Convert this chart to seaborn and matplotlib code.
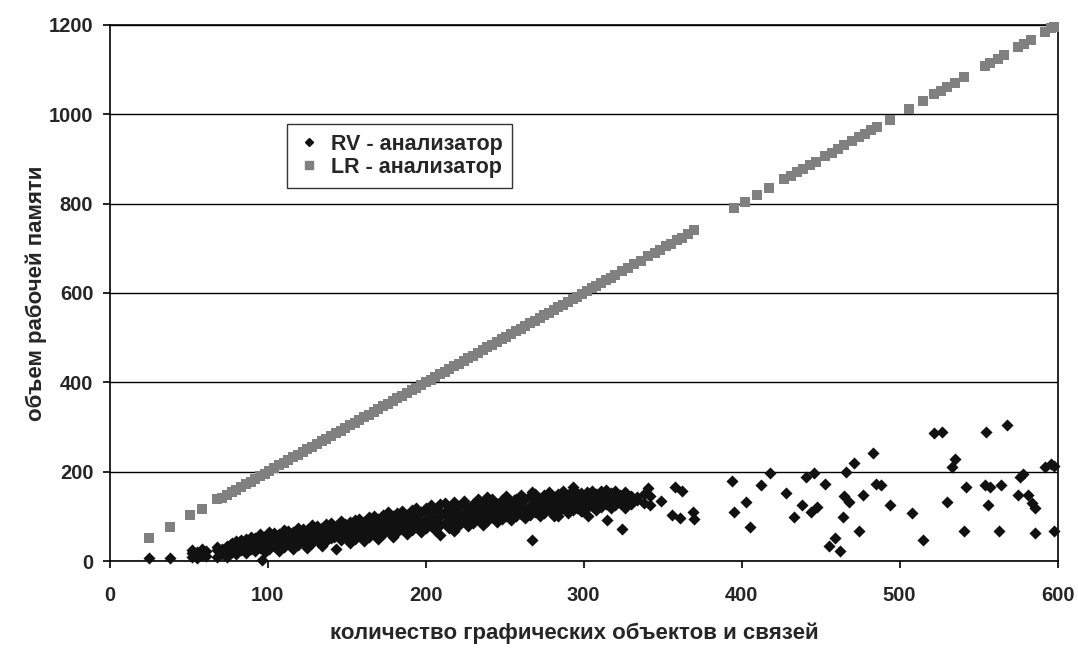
import numpy as np
import pandas as pd
import seaborn as sns
import matplotlib.pyplot as plt
from matplotlib.lines import Line2D

sns.set_style("white")
plt.rcParams['font.family'] = ['Liberation Sans', 'DejaVu Sans']

# RV - analyser: dense band, then a scatter of outliers
rv_x = [
    52, 52, 52, 55, 55, 58, 58, 61, 61, 68, 68, 68, 71, 71,
    74, 74, 74, 77, 77, 77, 80, 80, 80, 83, 83, 83,
    86, 86, 86, 89, 89, 89, 92, 92, 92, 95, 95, 95,
    98, 98, 98, 101, 101, 101, 104, 104, 104, 107, 107, 107,
    110, 110, 110, 113, 113, 113, 116, 116, 116, 119, 119, 119,
    122, 122, 122, 125, 125, 125, 128, 128, 128, 131, 131, 131,
    134, 134, 134, 137, 137, 137, 140, 140, 140, 143, 143, 143,
    146, 146, 146, 149, 149, 149, 152, 152, 152, 155, 155, 155,
    158, 158, 158, 161, 161, 161, 164, 164, 164, 167, 167, 167,
    170, 170, 170, 173, 173, 173, 176, 176, 176, 179, 179, 179,
    182, 182, 182, 185, 185, 185, 188, 188, 188, 191, 191, 191,
    194, 194, 194, 197, 197, 197, 200, 200, 200, 203, 203, 203,
    206, 206, 206, 209, 209, 209, 209, 212, 212, 212, 215, 215, 215,
    218, 218, 218, 218, 221, 221, 221, 224, 224, 224, 227, 227, 227,
    230, 230, 230, 233, 233, 233, 236, 236, 236, 239, 239, 239,
    242, 242, 242, 245, 245, 245, 248, 248, 248, 251, 251, 251,
    254, 254, 254, 257, 257, 257, 260, 260, 260, 263, 263, 263,
    266, 266, 266, 269, 269, 269, 272, 272, 272, 275, 275, 275,
    278, 278, 278, 281, 281, 281, 284, 284, 284, 287, 287, 287,
    290, 290, 290, 293, 293, 293, 296, 296, 296, 299, 299, 299,
    302, 302, 302, 305, 305, 305, 308, 308, 308, 311, 311, 311,
    314, 314, 314, 317, 317, 317, 320, 320, 320, 323, 323, 326, 326, 326,
    330, 330, 334, 338, 338, 342, 342,
    76, 76, 82, 82, 88, 88, 94, 94, 100, 100, 106, 106, 112, 112,
    118, 118, 124, 124, 130, 130, 136, 136, 142, 142, 148, 148,
    154, 154, 160, 160, 166, 166, 172, 172, 178, 178, 184, 184,
    190, 190, 196, 196, 202, 202, 208, 208, 214, 214, 220, 220,
    226, 226, 232, 232, 238, 238, 244, 244, 250, 250, 256, 256,
    262, 262, 268, 268, 274, 274, 280, 280, 286, 286, 292, 292,
    298, 298, 304, 304, 310, 310, 316, 316, 322, 322,
    25, 38, 96, 239, 267, 267, 284, 293, 298, 303, 315, 324, 334, 341,
    349, 358, 362, 356, 361, 369, 370,
    394, 395, 403, 405, 412, 418, 428, 433, 438, 441,
    444, 446, 448, 453, 455, 459, 462, 464, 466, 465,
    468, 471, 474, 477, 483, 485, 488, 494, 508, 515,
    522, 527, 530, 533, 535, 542, 541, 554, 555, 556,
    557, 563, 564, 568, 575, 576, 578, 581, 584, 586,
    586, 592, 596, 598, 598,
]
rv_y = [
    10, 18, 26, 8, 20, 14, 27, 12, 22, 10, 24, 31, 16, 28,
    9, 22, 35, 20, 33, 40, 15, 28, 45, 25, 38, 48,
    18, 33, 50, 28, 42, 55, 22, 36, 52, 30, 45, 60,
    20, 40, 55, 28, 48, 66, 35, 52, 62, 22, 44, 60,
    32, 50, 70, 40, 56, 68, 28, 47, 65, 36, 58, 75,
    44, 62, 72, 30, 52, 70, 40, 60, 80, 48, 66, 78,
    35, 55, 74, 45, 62, 84, 52, 70, 86, 28, 58, 78,
    48, 66, 90, 55, 72, 84, 40, 62, 88, 50, 70, 92,
    58, 78, 95, 45, 66, 88, 55, 75, 98, 62, 82, 100,
    50, 72, 94, 60, 80, 104, 68, 88, 110, 55, 76, 100,
    65, 86, 108, 72, 92, 112, 60, 82, 104, 70, 90, 115,
    78, 98, 118, 65, 88, 110, 74, 95, 120, 82, 102, 125,
    70, 92, 116, 58, 80, 100, 128, 85, 105, 130, 75, 96, 120,
    68, 88, 110, 132, 80, 100, 124, 90, 108, 135, 78, 98, 120,
    86, 105, 128, 94, 114, 138, 82, 102, 125, 90, 110, 132,
    98, 118, 140, 88, 106, 128, 95, 115, 136, 102, 122, 145,
    92, 110, 132, 100, 120, 140, 106, 126, 148, 96, 115, 138,
    104, 124, 145, 110, 130, 150, 100, 118, 140, 108, 128, 148,
    114, 134, 155, 102, 122, 144, 110, 130, 150, 118, 138, 158,
    108, 126, 146, 115, 134, 160, 120, 140, 152, 112, 130, 148,
    118, 138, 155, 124, 144, 158, 115, 132, 150, 122, 140, 156,
    128, 146, 160, 118, 135, 152, 125, 142, 158, 130, 148, 120, 138, 155,
    128, 146, 136, 130, 150, 125, 145,
    25, 36, 28, 42, 31, 46, 34, 50, 36, 54, 38, 56, 41, 60,
    44, 62, 47, 65, 49, 68, 52, 72, 54, 76, 57, 79,
    60, 82, 62, 86, 64, 90, 68, 92, 72, 96, 74, 100,
    78, 104, 80, 106, 84, 110, 86, 114, 90, 116, 92, 118,
    96, 122, 100, 126, 102, 128, 106, 131, 108, 134, 110, 136,
    112, 138, 116, 140, 118, 142, 120, 145, 122, 148, 124, 150,
    126, 152, 128, 150, 130, 152, 132, 150, 134, 148,
    6, 8, 2, 144, 154, 47, 100, 166, 113, 100, 92, 71, 144, 164,
    134, 167, 158, 104, 96, 111, 94,
    180, 111, 132, 77, 170, 198, 153, 99, 126, 189,
    111, 198, 122, 173, 34, 51, 23, 99, 200, 145,
    132, 220, 68, 147, 241, 173, 170, 126, 108, 47,
    286, 288, 132, 211, 229, 166, 68, 171, 288, 126,
    166, 68, 170, 305, 147, 188, 196, 147, 130, 119,
    62, 211, 217, 213, 68,
]

# LR - analyser
lr_x = [
    25, 38, 51, 58, 68, 71, 74, 77, 80, 83,
    86, 89, 92, 95, 98, 101, 104, 107, 110, 113,
    116, 119, 122, 125, 128, 131, 134, 137, 140, 143,
    146, 149, 152, 155, 158, 161, 164, 167, 170, 173,
    176, 179, 182, 185, 188, 191, 194, 197, 200, 203,
    206, 209, 212, 215, 218, 221, 224, 227, 230, 233,
    236, 239, 242, 245, 248, 251, 254, 257, 260, 263,
    266, 269, 272, 275, 278, 281, 284, 287, 290, 293,
    296, 299, 302, 305, 308, 311, 314, 317, 320, 324,
    328, 332, 336, 341, 345, 348, 352, 355, 359, 362,
    366, 370, 395, 402, 410, 417, 427, 431, 435, 439,
    443, 447, 453, 457, 461, 465, 470, 474, 478, 482,
    486, 494, 506, 515, 522, 526, 530, 535, 541, 554,
    557, 562, 566, 575, 579, 583, 592, 596, 598,
]
lr_y = [
    52, 76, 104, 116, 138, 142, 148, 154, 160, 166,
    172, 178, 184, 190, 196, 202, 208, 214, 220, 226,
    232, 238, 244, 250, 256, 262, 268, 274, 280, 286,
    292, 298, 304, 310, 316, 322, 328, 334, 340, 346,
    352, 358, 364, 370, 376, 382, 388, 394, 400, 406,
    412, 418, 424, 430, 436, 442, 448, 454, 460, 466,
    472, 478, 484, 490, 496, 502, 508, 514, 520, 526,
    532, 538, 544, 550, 556, 562, 568, 574, 580, 586,
    592, 598, 604, 610, 616, 622, 628, 634, 640, 648,
    656, 664, 672, 682, 690, 696, 704, 710, 718, 724,
    732, 740, 790, 804, 820, 834, 854, 862, 870, 878,
    886, 894, 906, 914, 922, 930, 940, 948, 956, 964,
    972, 988, 1012, 1030, 1044, 1052, 1060, 1070, 1082, 1108,
    1114, 1124, 1132, 1150, 1158, 1166, 1184, 1192, 1196,
]

rv_label = "RV - анализатор"
lr_label = "LR - анализатор"
rv_color = "#111111"
lr_color = "#808080"

fig, ax = plt.subplots(figsize=(10.78, 6.51), dpi=100)
fig.subplots_adjust(left=0.102, right=0.981, top=0.962, bottom=0.138)

sns.scatterplot(x=rv_x, y=rv_y, ax=ax, marker="D", s=38, color=rv_color,
                linewidth=0, clip_on=False, zorder=3)
sns.scatterplot(x=lr_x, y=lr_y, ax=ax, marker="s", s=50, color=lr_color,
                linewidth=0, clip_on=False, zorder=3)

ax.set_xlim(0, 600)
ax.set_ylim(0, 1200)
ax.set_xticks(range(0, 601, 100))
ax.set_yticks(range(0, 1201, 200))
ax.yaxis.grid(True, color="black", linewidth=1)
ax.set_axisbelow(True)
for sp in ax.spines.values():
    sp.set_color("black")
    sp.set_linewidth(1.2)

ax.tick_params(axis="both", direction="out", length=5, width=1.2, color="black",
               labelsize=14.5, left=True, bottom=True)
ax.tick_params(axis="x", pad=13)
ax.tick_params(axis="y", pad=7)
for lab in ax.get_xticklabels() + ax.get_yticklabels():
    lab.set_fontweight("bold")

ax.set_xlabel("количество графических объектов и связей", fontsize=16, fontweight="bold")
ax.set_ylabel("объем рабочей памяти", fontsize=16, fontweight="bold")
ax.xaxis.set_label_coords(0.49, -0.114)
ax.yaxis.set_label_coords(-0.066, 0.5)

handles = [
    Line2D([], [], linestyle="none", marker="D", markersize=4.5, color=rv_color),
    Line2D([], [], linestyle="none", marker="s", markersize=5.5, color=lr_color),
]
leg = ax.legend(handles, [rv_label, lr_label], loc="upper left",
                bbox_to_anchor=(0.1864, 0.815), frameon=True, fancybox=False,
                edgecolor="black", prop={"weight": "bold", "size": 15.5},
                handlelength=1.2, handletextpad=0.4, borderpad=0.45,
                labelspacing=0.1, borderaxespad=0)
leg.get_frame().set_linewidth(1.0)

fig.savefig("out.png", dpi=100)
